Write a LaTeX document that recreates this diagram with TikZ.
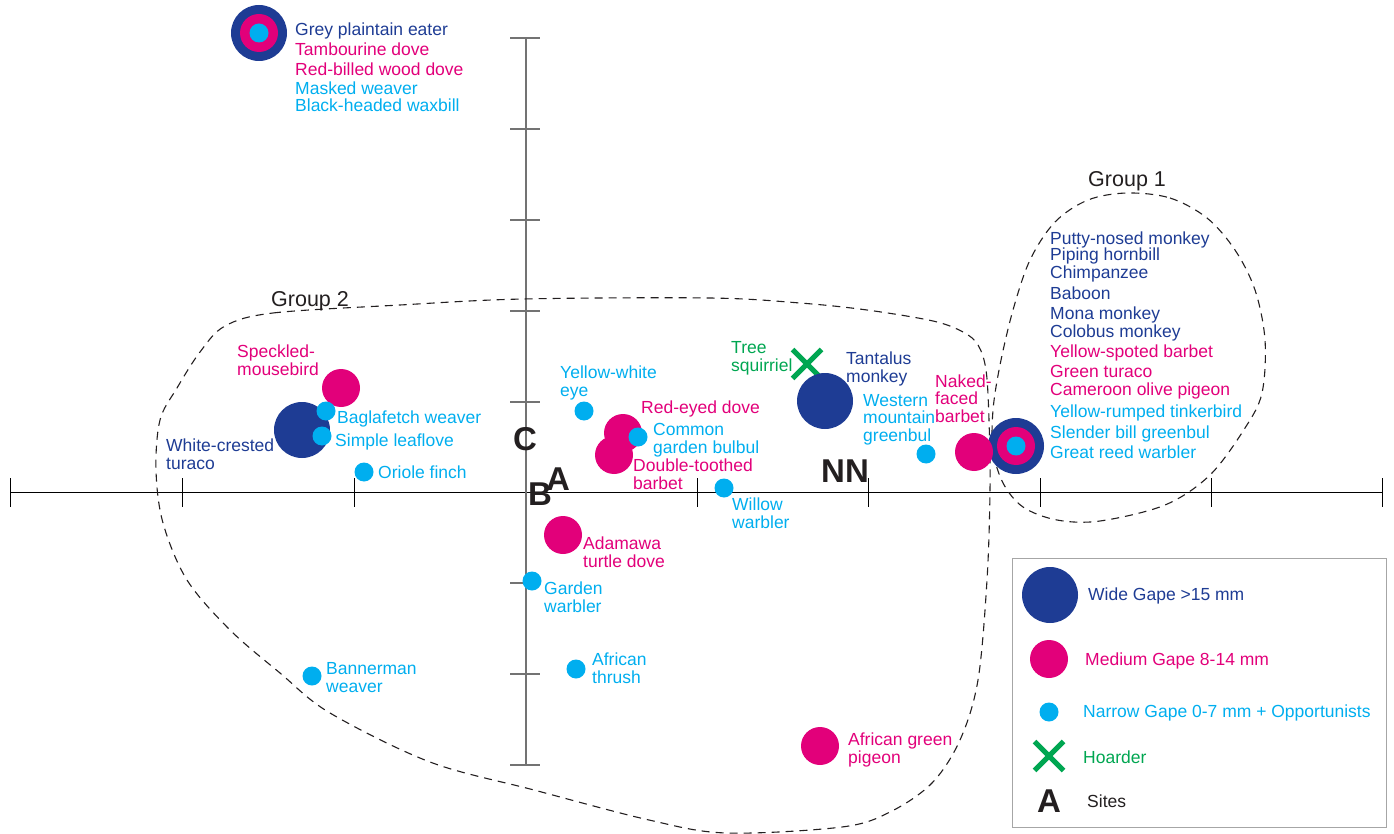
\documentclass[tikz,border=0pt]{standalone}
\usepackage{fontspec}
\setmainfont{Liberation Sans}
\usetikzlibrary{shapes.misc}
\definecolor{gblue}{RGB}{30,60,148}
\definecolor{gmag}{RGB}{226,0,122}
\definecolor{gcyan}{RGB}{0,174,239}
\definecolor{ggreen}{RGB}{0,166,81}
\definecolor{gdark}{RGB}{35,31,32}
\tikzset{
  wide/.style={circle,fill=gblue,minimum size=56pt,inner sep=0pt},
  medium/.style={circle,fill=gmag,minimum size=38pt,inner sep=0pt},
  narrow/.style={circle,fill=gcyan,minimum size=19pt,inner sep=0pt},
  hoard/.style={cross out,draw=ggreen,line width=5pt,minimum size=24pt,inner sep=0pt},
  lbl/.style={anchor=base west,inner sep=0pt,align=left,font=\fontsize{17.5}{17.5}\selectfont},
  bl/.style={lbl,text=gblue},
  ml/.style={lbl,text=gmag},
  cl/.style={lbl,text=gcyan},
  site/.style={anchor=base,inner sep=0pt,font=\fontsize{33}{33}\selectfont\bfseries,text=gdark},
  grp/.style={anchor=base west,inner sep=0pt,font=\fontsize{21.5}{22}\selectfont,text=gdark},
  hull/.style={draw=gdark,dash pattern=on 8pt off 6pt,line width=1.1pt},
  vax/.style={draw=black!55,line width=1.8pt},
  hax/.style={draw=black,line width=1pt}
}
\begin{document}
\begin{tikzpicture}[x=1pt,y=-1pt]
\useasboundingbox (0,0) rectangle (1394,834);
% axes
\coordinate (hl) at (10,492); \coordinate (hr) at (1382,492);
\coordinate (vt) at (526,38); \coordinate (vb) at (526,765);
\draw[hax] (hl) -- (hr);
\foreach \x in {10,182,354,697,868,1040,1211,1382}{\draw[hax] (\x,478) -- (\x,507);}
\draw[vax] (vt) -- (vb);
\foreach \y in {38,129,220,311,402,583,674,765}{\draw[vax] (510,\y) -- (540,\y);}
% groups
\draw[hull] plot[smooth cycle,tension=0.55] coordinates {(225,326) (273,313) (400,305) (523,299) (710,298) (800,303) (867,310) (933,321) (963,332) (978,345) (986,370) (989,420) (990,490) (987,580) (978,680) (960,740) (932,783) (890,812) (842,827) (726,833) (649,820) (534,790) (430,762) (330,713) (280,673) (230,630) (187,580) (163,523) (156,470) (160,420) (177,388) (200,352)};
\draw[hull] plot[smooth cycle,tension=0.55] coordinates {(1127,193) (1170,198) (1207,218) (1235,250) (1255,290) (1265,340) (1262,393) (1245,428) (1210,475) (1165,505) (1100,521) (1057,520) (1023,507) (1003,483) (993,450) (993,410) (1000,365) (1013,310) (1030,260) (1055,222) (1088,200)};
\node[grp] (g1) at (1088,187) {Group 1};
\node[grp] (g2) at (271,306) {Group 2};
% top-left concentric
\node[wide] (tlw) at (259,33) {};
\node[medium] (tlm) at (259,33) {};
\node[narrow] (tln) at (259,33) {};
\node[bl] (t1) at (295,36) {Grey plaintain eater};
\node[ml] (t2) at (295,56) {Tambourine dove};
\node[ml] (t3) at (295,76) {Red-billed wood dove};
\node[cl] (t4) at (295,95) {Masked weaver};
\node[cl] (t5) at (295,112) {Black-headed waxbill};
% group 1 concentric
\node[wide] (g1w) at (1016,446) {};
\node[medium] (g1m) at (1016,446) {};
\node[narrow] (g1n) at (1016,446) {};
\node[bl] (a1) at (1050,245) {Putty-nosed monkey};
\node[bl] (a2) at (1050,261) {Piping hornbill};
\node[bl] (a3) at (1050,279) {Chimpanzee};
\node[bl] (a4) at (1050,299) {Baboon};
\node[bl] (a5) at (1050,319) {Mona monkey};
\node[bl] (a6) at (1050,337) {Colobus monkey};
\node[ml] (a7) at (1050,357) {Yellow-spoted barbet};
\node[ml] (a8) at (1050,377) {Green turaco};
\node[ml] (a9) at (1050,395) {Cameroon olive pigeon};
\node[cl] (a10) at (1050,417) {Yellow-rumped tinkerbird};
\node[cl] (a11) at (1050,438) {Slender bill greenbul};
\node[cl] (a12) at (1050,458) {Great reed warbler};
% left cluster
\node[medium] (mouse) at (341,388) {};
\node[ml] (mousel) at (237,375) {Speckled-\\mousebird};
\node[wide] (turaco) at (302,430) {};
\node[bl] (turacol) at (166,469) {White-crested\\turaco};
\node[narrow] (bagla) at (326,411) {};
\node[cl] (baglal) at (337,423) {Baglafetch weaver};
\node[narrow] (leaf) at (322,436) {};
\node[cl] (leafl) at (335,446) {Simple leaflove};
\node[narrow] (oriole) at (364,472) {};
\node[cl] (oriolel) at (378,478) {Oriole finch};
% centre cluster
\node[narrow] (ywe) at (584,411) {};
\node[cl] (ywel) at (560,396) {Yellow-white\\eye};
\node[medium] (red) at (623,433) {};
\node[ml] (redl) at (641,413) {Red-eyed dove};
\node[medium] (dtb) at (614,455) {};
\node[ml] (dtbl) at (633,489) {Double-toothed\\barbet};
\node[narrow] (cgb) at (638,437) {};
\node[cl] (cgbl) at (653,453) {Common\\garden bulbul};
\node[narrow] (willow) at (724,488) {};
\node[cl] (willowl) at (732,528) {Willow\\warbler};
% sites
\node[site] (sC) at (525,450) {C};
\node[site] (sB) at (540,505) {B};
\node[site] (sA) at (558,490) {A};
\node[site] (sNN) at (845,482) {NN};
% right cluster
\node[hoard] (squirrel) at (807,364) {};
\node[lbl,text=ggreen] (squirrell) at (731,371) {Tree\\squirriel};
\node[wide] (tant) at (825,401) {};
\node[bl] (tantl) at (846,382) {Tantalus\\monkey};
\node[narrow] (wmg) at (926,454) {};
\node[cl] (wmgl) at (863,441) {Western\\mountain\\greenbul};
\node[medium] (nfb) at (974,452) {};
\node[ml] (nfbl) at (935,422) {Naked-\\faced\\barbet};
% lower cluster
\node[medium] (adam) at (563,535) {};
\node[ml] (adaml) at (583,567) {Adamawa\\turtle dove};
\node[narrow] (gw) at (532,581) {};
\node[cl] (gwl) at (544,612) {Garden\\warbler};
\node[narrow] (thrush) at (576,669) {};
\node[cl] (thrushl) at (592,683) {African\\thrush};
\node[narrow] (banner) at (312,676) {};
\node[cl] (bannerl) at (326,692) {Bannerman\\weaver};
\node[medium] (agp) at (820,746) {};
\node[ml] (agpl) at (848,763) {African green\\pigeon};
% legend
\node[draw=black!35,line width=1pt,minimum width=374pt,minimum height=269pt,inner sep=0pt] (legend) at (1199,692.5) {};
\node[wide] (lw) at (1050,595) {};
\node[bl] (lwl) at (1088,600) {Wide Gape >15 mm};
\node[medium] (lm) at (1049,659) {};
\node[ml] (lml) at (1085,665) {Medium Gape 8-14 mm};
\node[narrow] (ln) at (1049,712) {};
\node[cl] (lnl) at (1083,717) {Narrow Gape 0-7 mm + Opportunists};
\node[hoard] (lx) at (1049,756) {};
\node[lbl,text=ggreen] (lxl) at (1083,763) {Hoarder};
\node[site] (lA) at (1049,812) {A};
\node[lbl,text=gdark] (lAl) at (1087,807) {Sites};
\end{tikzpicture}
\end{document}
